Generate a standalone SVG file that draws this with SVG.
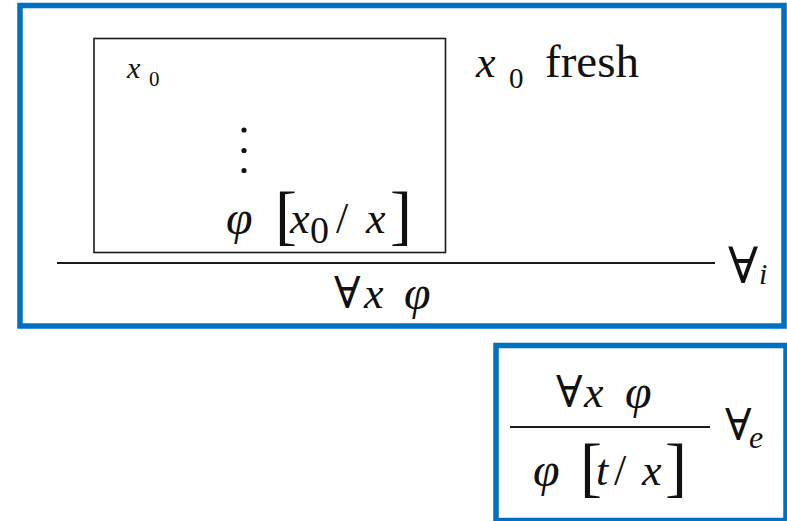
<svg xmlns="http://www.w3.org/2000/svg" width="787" height="521" viewBox="0 0 787 521">
<style>
.frame{fill:none;stroke:#0070C0;stroke-width:5.5}
.box{fill:none;stroke:#1a1a1a;stroke-width:1.6}
.rule{stroke:#1a1a1a;stroke-width:2}
text{font-family:"Liberation Serif","DejaVu Serif",serif;fill:#111}
.it{font-style:italic}
.dot{fill:#111}
</style>
<rect width="787" height="521" fill="#fff"/>
<g id="forall-intro">
  <rect class="frame" x="20" y="5.5" width="764" height="320.5"/>
  <g id="subproof">
    <rect class="box" x="94" y="38.5" width="351.5" height="214"/>
    <text class="it" x="127" y="78" font-size="30">x</text>
    <text x="149" y="86" font-size="21">0</text>
    <circle class="dot" cx="244" cy="130" r="2.6"/>
    <circle class="dot" cx="244" cy="150.5" r="2.6"/>
    <circle class="dot" cx="244" cy="170.5" r="2.6"/>
    <text class="it" x="226" y="234" font-size="48">φ</text>
    <text x="275" y="237" font-size="66">[</text>
    <text class="it" x="290" y="233" font-size="44">x</text>
    <text x="310" y="243" font-size="38">0</text>
    <text x="336" y="233" font-size="44">/</text>
    <text class="it" x="366" y="233" font-size="44">x</text>
    <text x="390" y="237" font-size="66">]</text>
  </g>
  <g id="fresh-note">
    <text class="it" x="476" y="77" font-size="44">x</text>
    <text x="509" y="88" font-size="29">0</text>
    <text x="545" y="77" font-size="47">fresh</text>
  </g>
  <g id="intro-conclusion">
    <text x="334" y="308" font-size="44">∀</text>
    <text class="it" x="364" y="308" font-size="44">x</text>
    <text class="it" x="404" y="309" font-size="48">φ</text>
  </g>
  <g id="intro-label">
    <text x="728" y="283" font-size="50">∀</text>
    <text class="it" x="759" y="284" font-size="30">i</text>
  </g>
</g>
<g id="forall-elim">
  <rect class="frame" x="496" y="345.5" width="290" height="175"/>
  <g id="elim-premise">
    <text x="556" y="407" font-size="44">∀</text>
    <text class="it" x="584" y="407" font-size="44">x</text>
    <text class="it" x="625" y="408" font-size="48">φ</text>
  </g>
  <g id="elim-conclusion">
    <text class="it" x="533" y="486" font-size="48">φ</text>
    <text x="580" y="489" font-size="66">[</text>
    <text class="it" x="596" y="485" font-size="44">t</text>
    <text x="614" y="485" font-size="44">/</text>
    <text class="it" x="642" y="485" font-size="44">x</text>
    <text x="665" y="489" font-size="66">]</text>
  </g>
  <g id="elim-label">
    <text x="725" y="440" font-size="44">∀</text>
    <text class="it" x="749" y="448" font-size="32">e</text>
  </g>
</g>
<g id="connectors">
  <line class="rule" x1="57" y1="263" x2="715" y2="263"/>
  <line class="rule" x1="510" y1="427" x2="710" y2="427"/>
</g>
</svg>
